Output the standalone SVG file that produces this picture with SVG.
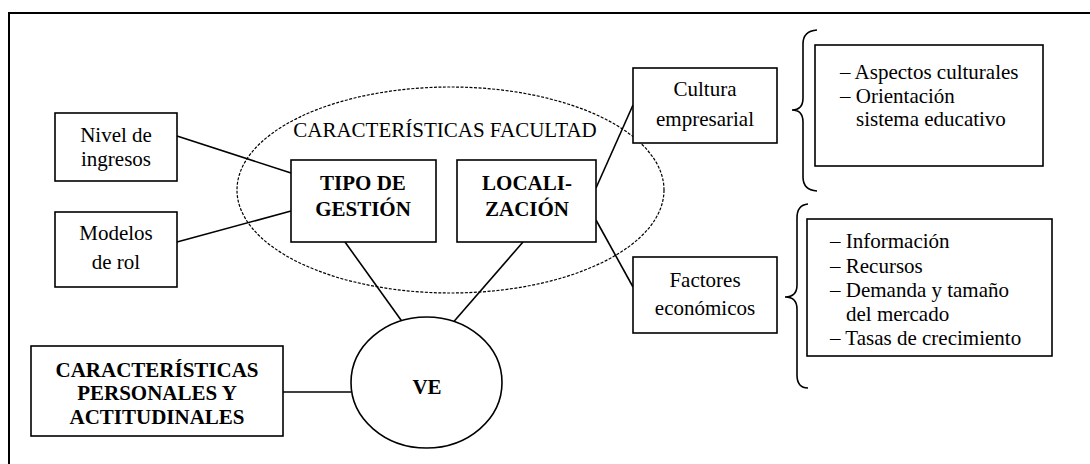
<svg xmlns="http://www.w3.org/2000/svg" width="1090" height="464" viewBox="0 0 1090 464">
<style>
.box{fill:#fff;stroke:#000;stroke-width:1.6}
.ln{fill:none;stroke:#000;stroke-width:1.6}
.c{text-anchor:middle}
</style>
<rect width="1090" height="464" fill="#fff"/>
<path d="M9,464 V13 H1090" fill="none" stroke="#000" stroke-width="2"/>
<g id="facultad">
<ellipse cx="450.5" cy="190" rx="213.5" ry="103" fill="none" stroke="#000" stroke-width="1.2" stroke-dasharray="3 1.5"/>
<text class="c" x="445" y="137" font-family="Liberation Serif" font-size="21">CARACTERÍSTICAS FACULTAD</text>
</g>
<g id="connectors">
<line class="ln" x1="177" y1="136" x2="291" y2="173"/>
<line class="ln" x1="177" y1="242" x2="291" y2="211"/>
<line class="ln" x1="345" y1="242" x2="406" y2="327"/>
<line class="ln" x1="523" y1="242" x2="450" y2="326"/>
<line class="ln" x1="596" y1="188" x2="633" y2="105"/>
<line class="ln" x1="596" y1="220" x2="633" y2="287"/>
<line class="ln" x1="283" y1="392" x2="351" y2="392"/>
</g>
<g id="nivel">
<rect class="box" x="55" y="113" width="122" height="68"/>
<text class="c" x="116" y="142" font-family="Liberation Serif" font-size="21">Nivel de</text>
<text class="c" x="116" y="166" font-family="Liberation Serif" font-size="21">ingresos</text>
</g>
<g id="modelos">
<rect class="box" x="55" y="212" width="122" height="75"/>
<text class="c" x="116" y="240" font-family="Liberation Serif" font-size="21">Modelos</text>
<text class="c" x="116" y="269" font-family="Liberation Serif" font-size="21">de rol</text>
</g>
<g id="tipo">
<rect class="box" x="291" y="160" width="145" height="82"/>
<text class="c" x="363" y="190" font-family="Liberation Serif" font-size="21" font-weight="bold">TIPO DE</text>
<text class="c" x="363" y="216" font-family="Liberation Serif" font-size="21" font-weight="bold">GESTIÓN</text>
</g>
<g id="localizacion">
<rect class="box" x="457" y="160" width="139" height="82"/>
<text class="c" x="527" y="190" font-family="Liberation Serif" font-size="21" font-weight="bold">LOCALI-</text>
<text class="c" x="527" y="216" font-family="Liberation Serif" font-size="21" font-weight="bold">ZACIÓN</text>
</g>
<g id="ve">
<ellipse cx="426.5" cy="382.5" rx="75.5" ry="65.5" fill="#fff" stroke="#000" stroke-width="1.6"/>
<text class="c" x="427" y="394" font-family="Liberation Serif" font-size="21" font-weight="bold">VE</text>
</g>
<g id="personales">
<rect class="box" x="31" y="346" width="252" height="90"/>
<text class="c" x="157" y="377" font-family="Liberation Serif" font-size="21" font-weight="bold">CARACTERÍSTICAS</text>
<text class="c" x="157" y="400" font-family="Liberation Serif" font-size="21" font-weight="bold">PERSONALES Y</text>
<text class="c" x="157" y="424" font-family="Liberation Serif" font-size="21" font-weight="bold">ACTITUDINALES</text>
</g>
<g id="cultura">
<rect class="box" x="633" y="68" width="144" height="75"/>
<text class="c" x="705" y="96" font-family="Liberation Serif" font-size="21">Cultura</text>
<text class="c" x="705" y="126" font-family="Liberation Serif" font-size="21">empresarial</text>
</g>
<g id="factores">
<rect class="box" x="633" y="257" width="144" height="76"/>
<text class="c" x="705" y="287" font-family="Liberation Serif" font-size="21">Factores</text>
<text class="c" x="705" y="315" font-family="Liberation Serif" font-size="21">económicos</text>
</g>
<g id="brace-top">
<path class="ln" d="M817,30 Q803,31 803,44 V98 Q803,110 792,110 Q803,110 803,122 V177 Q803,190 817,191"/>
</g>
<g id="aspectos">
<rect class="box" x="815" y="45" width="228" height="121"/>
<text x="840" y="79" font-family="Liberation Serif" font-size="21">– Aspectos culturales</text>
<text x="840" y="102.5" font-family="Liberation Serif" font-size="21">– Orientación</text>
<text x="856" y="126" font-family="Liberation Serif" font-size="21">sistema educativo</text>
</g>
<g id="brace-bottom">
<path class="ln" d="M808,204 Q797,205 797,218 V285 Q797,297 785,297 Q797,297 797,309 V375 Q797,388 808,388"/>
</g>
<g id="economicos">
<rect class="box" x="807" y="219" width="245" height="137"/>
<text x="830" y="248" font-family="Liberation Serif" font-size="21">– Información</text>
<text x="830" y="273" font-family="Liberation Serif" font-size="21">– Recursos</text>
<text x="830" y="297" font-family="Liberation Serif" font-size="21">– Demanda y tamaño</text>
<text x="846" y="320.5" font-family="Liberation Serif" font-size="21">del mercado</text>
<text x="830" y="345" font-family="Liberation Serif" font-size="21">– Tasas de crecimiento</text>
</g>
</svg>
